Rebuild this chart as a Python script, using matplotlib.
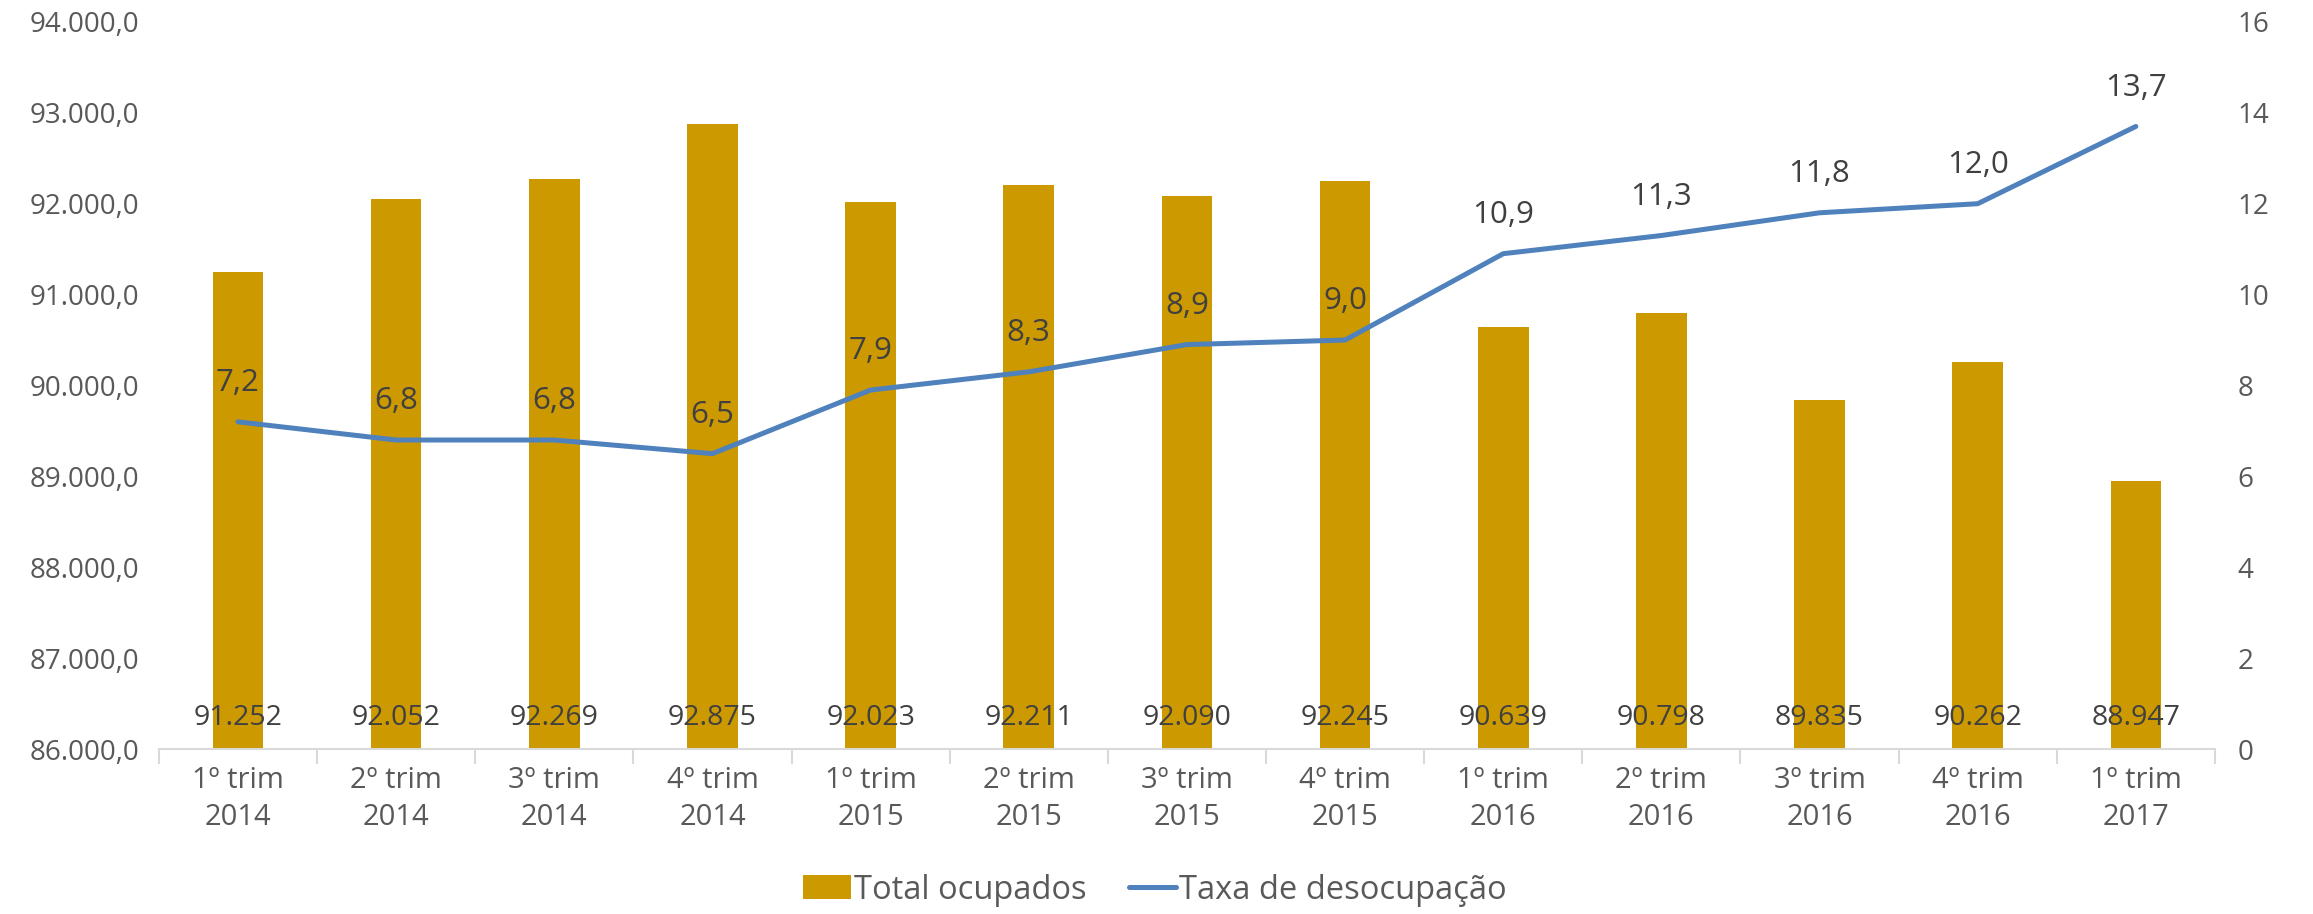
import numpy as np
import matplotlib
matplotlib.use("Agg")
import matplotlib.pyplot as plt
from matplotlib.ticker import FuncFormatter

plt.rcParams['font.family'] = ['Open Sans', 'DejaVu Sans']

trimestres = ["1º trim\n2014", "2º trim\n2014", "3º trim\n2014", "4º trim\n2014",
              "1º trim\n2015", "2º trim\n2015", "3º trim\n2015", "4º trim\n2015",
              "1º trim\n2016", "2º trim\n2016", "3º trim\n2016", "4º trim\n2016",
              "1º trim\n2017"]
total_ocupados = [91252, 92052, 92269, 92875, 92023, 92211, 92090, 92245,
                  90639, 90798, 89835, 90262, 88947]
taxa_desocupacao = [7.2, 6.8, 6.8, 6.5, 7.9, 8.3, 8.9, 9.0,
                    10.9, 11.3, 11.8, 12.0, 13.7]

bar_color = "#CC9900"
line_color = "#4F81BD"
tick_color = "#595959"
label_color = "#404040"

x = np.arange(len(trimestres))

fig = plt.figure(figsize=(23.13, 9.14), dpi=100)
ax = fig.add_axes([0.0687, 0.1805, 0.8889, 0.7955])
ax2 = ax.twinx()

bars = ax.bar(x, total_ocupados, width=0.32, color=bar_color, label="Total ocupados", zorder=2)
ax.set_ylim(86000, 94000)
ax.set_yticks(np.arange(86000, 94001, 1000))
ax.yaxis.set_major_formatter(FuncFormatter(lambda v, p: f"{v:,.1f}".replace(",", "X").replace(".", ",").replace("X", ".")))
ax.set_xlim(-0.5, len(x) - 0.5)
ax.set_xticks(x)
ax.set_xticklabels(trimestres, linespacing=1.4)
ax.set_xticks(np.arange(-0.5, len(x), 1), minor=True)
ax.tick_params(axis='x', which='major', length=0, pad=12, labelsize=21, labelcolor=tick_color)
ax.tick_params(axis='x', which='minor', length=11, width=1.5, color="#D9D9D9")
ax.tick_params(axis='y', length=0, pad=14, labelsize=20, labelcolor=tick_color)

for i, v in enumerate(total_ocupados):
    ax.annotate(f"{v:,}".replace(",", "."), xy=(i, 86000), xytext=(0, 22),
                textcoords="offset points", ha="center", va="center",
                fontsize=20.5, color=label_color, zorder=3)

line, = ax2.plot(x, taxa_desocupacao, color=line_color, lw=3.6, label="Taxa de desocupação",
                 solid_capstyle="round", zorder=3)
ax2.set_ylim(0, 16)
ax2.set_yticks(np.arange(0, 17, 2))
ax2.tick_params(axis='y', length=0, pad=16, labelsize=20, labelcolor=tick_color)

for i, v in enumerate(taxa_desocupacao):
    ax2.annotate(f"{v:.1f}".replace(".", ","), xy=(i, v), xytext=(0, 28),
                 textcoords="offset points", ha="center", va="center",
                 fontsize=22.5, color=label_color)

for a in (ax, ax2):
    for s in ("top", "left", "right"):
        a.spines[s].set_visible(False)
ax2.spines["bottom"].set_visible(False)
ax.spines["bottom"].set_color("#D9D9D9")
ax.spines["bottom"].set_linewidth(1.5)

fig.legend([bars, line], ["Total ocupados", "Taxa de desocupação"],
           loc="center", bbox_to_anchor=(0.4994, 0.026), ncol=2, frameon=False,
           fontsize=23.5, labelcolor=tick_color, handlelength=1.45, handleheight=0.75,
           handletextpad=0.1, columnspacing=1.3)

fig.savefig("out.png", dpi=100)
